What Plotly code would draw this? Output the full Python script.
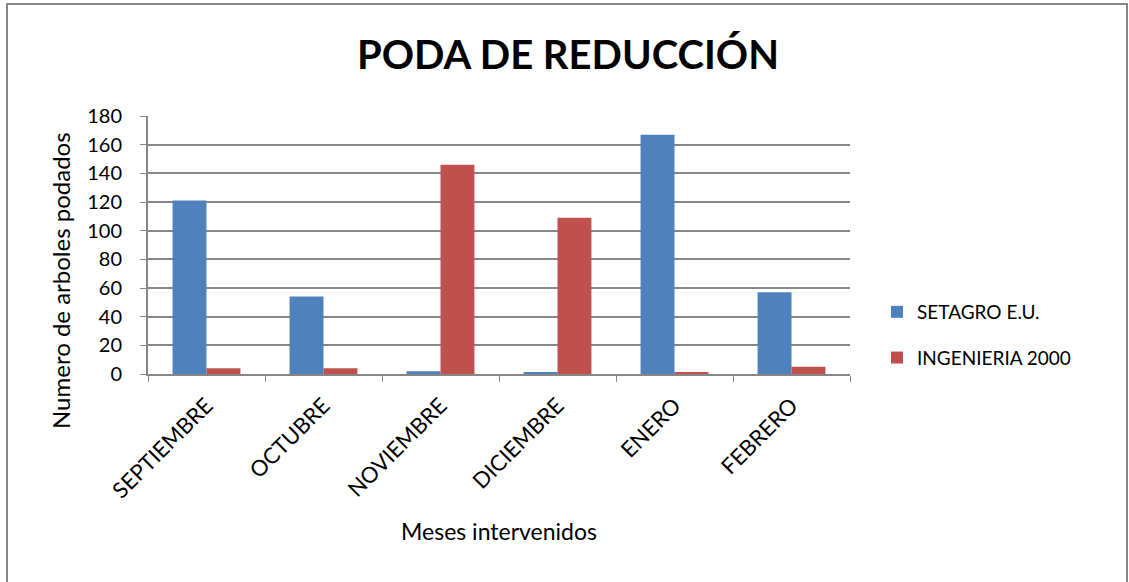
import plotly.graph_objects as go

# datos
meses = ["SEPTIEMBRE", "OCTUBRE", "NOVIEMBRE", "DICIEMBRE", "ENERO", "FEBRERO"]
setagro = [121, 54, 2, 1, 167, 57]
ingenieria = [4, 4, 146, 109, 1, 5]

W, H = 1129, 582
L, R, T, B = 148, 279, 116, 208
pw, ph = W - L - R, H - T - B

fig = go.Figure()
fig.add_trace(go.Bar(x=meses, y=setagro, name="SETAGRO E.U.", legendgroup="a",
                     marker=dict(color="#4F81BD", line=dict(width=0))))
fig.add_trace(go.Bar(x=meses, y=ingenieria, name="INGENIERIA 2000", legendgroup="b",
                     marker=dict(color="#C0504D", line=dict(width=0))))

font = "Lato, 'Open Sans', sans-serif"

fig.update_layout(
    width=W, height=H,
    margin=dict(l=L, r=R, t=T, b=B),
    paper_bgcolor="white", plot_bgcolor="white",
    barmode="group", bargap=0.42, bargroupgap=0,
    font=dict(family=font, size=19, color="black"),
    title=dict(text="<b>PODA DE REDUCCIÓN</b>", x=568 / W, xanchor="center",
               y=1 - 55 / H, yanchor="middle",
               font=dict(family=font, size=40, color="black")),
    legend=dict(x=1 + (877 - 850) / pw, y=1 - (335 - 116) / ph,
                xanchor="left", yanchor="middle",
                font=dict(size=19), tracegroupgap=18, itemwidth=30,
                bgcolor="rgba(0,0,0,0)"),
    showlegend=True,
)

fig.update_xaxes(
    tickangle=-45, showline=True, linecolor="#868686", linewidth=2,
    ticks="outside", tickson="boundaries", ticklen=6, tickcolor="#868686",
    tickfont=dict(size=22), ticklabelstandoff=8,
    title=dict(text="Meses intervenidos", font=dict(size=23), standoff=22),
)
fig.update_yaxes(
    range=[0, 180], dtick=20, showline=True, linecolor="#868686", linewidth=2,
    gridcolor="#868686", gridwidth=1.5,
    ticks="outside", ticklen=6, tickcolor="#868686",
    tickfont=dict(size=20), ticklabelstandoff=14,
    zeroline=False,
)

# titulo del eje y (mas abajo que el centro, como en el original)
fig.add_annotation(text="Numero de arboles podados", textangle=-90,
                   xref="paper", yref="paper",
                   x=(60 - L) / pw, y=1 - (281 - T) / ph,
                   xanchor="center", yanchor="middle", showarrow=False,
                   font=dict(size=24))

# borde exterior del grafico
fig.add_shape(type="rect", xref="paper", yref="paper",
              x0=(7 - L) / pw, x1=(1127 - L) / pw,
              y0=-(600 - 374) / ph, y1=1 + (T - 4) / ph,
              line=dict(color="#868686", width=2), fillcolor="rgba(0,0,0,0)")

fig.write_html("out.html", config={"displayModeBar": False},
               post_script="document.body.style.margin='0';")
